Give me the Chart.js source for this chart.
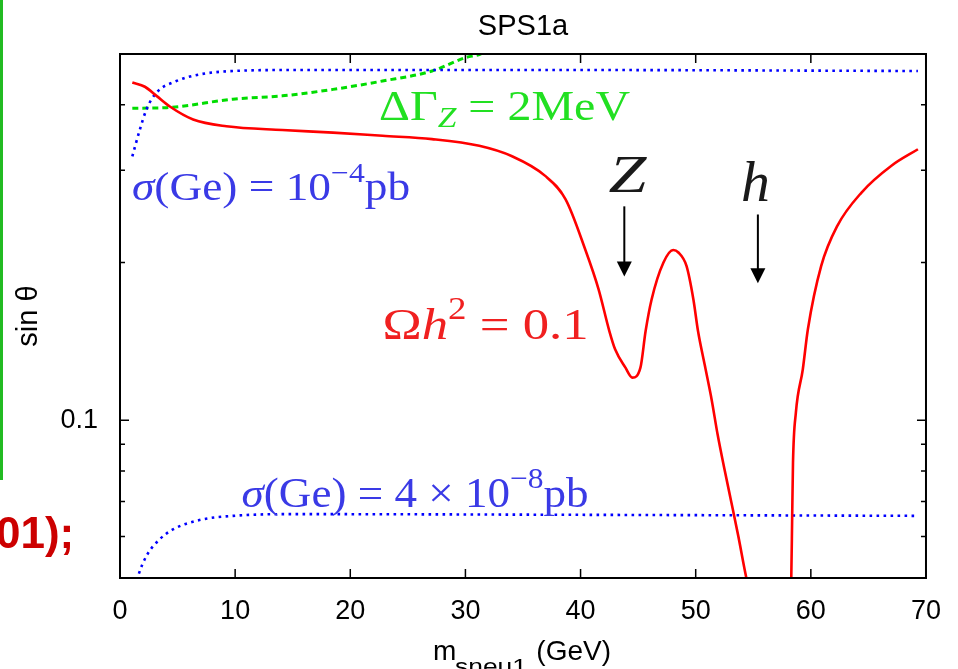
<!DOCTYPE html>
<html lang="en">
<head>
  <meta charset="UTF-8" />
  <title>SPS1a</title>
  <script src="https://cdn.jsdelivr.net/npm/chart.js"></script>
  <style>
    html, body { margin: 0; padding: 0; background: #fff; }
    #wrap { position: relative; width: 958px; height: 669px; overflow: hidden; }
    #bar { position: absolute; left: 0; top: 0; width: 3px; height: 480px; background: #22bb22; }
    #frag {
      position: absolute; left: -4px; top: 508px; line-height: 44px;
      font: bold 44px 'Liberation Sans', Arial, sans-serif; color: #cc0000;
    }
  </style>
</head>
<body>
  <div id="wrap">
    <canvas id="chart"></canvas>
    <div id="bar"></div>
    <div id="frag">01);</div>
  </div>
  <script>
    // axis ranges and ticks
    const xMin = 0, xMax = 70;
    const yMin = 0.05, yMax = 0.5;
    const xTickValues = [0, 10, 20, 30, 40, 50, 60, 70];
    const yTickValues = [0.05, 0.06, 0.07, 0.08, 0.09, 0.1, 0.2, 0.3, 0.4, 0.5];
    const yTickLabels = { 0.1: '0.1' };

    // Omega h^2 = 0.1 (red, solid)
    const omegaX = [1.07, 2.16, 3.17, 4.33, 6.35, 9.24, 14.1, 18.5, 22.8, 27.1,
      31.2, 34.05, 36.9, 38.7, 40.4, 41.56, 42.5, 43.0, 43.9, 44.5,
      45.2, 45.65, 46.17, 47.2, 48.05, 48.5, 49.2, 49.8, 50.2, 50.8,
      51.4, 51.9, 52.5, 53.1, 53.7, 54.4, 54.8, 56.3, 58.2, 58.3,
      58.38, 58.45, 58.7, 59.3, 59.74, 60.9, 62.3, 64.4, 67.0, 69.3];
    const omegaY = [0.441, 0.433, 0.416, 0.397, 0.375, 0.364, 0.358, 0.354, 0.349, 0.344,
      0.334, 0.319, 0.293, 0.264, 0.212, 0.178, 0.148, 0.1366, 0.126, 0.1206,
      0.126, 0.148, 0.170, 0.200, 0.2113, 0.209, 0.197, 0.170, 0.148, 0.127,
      0.109, 0.094, 0.0806, 0.0697, 0.0601, 0.05, 0.046, null, 0.046, 0.05,
      0.0657, 0.083, 0.1034, 0.125, 0.149, 0.197, 0.235, 0.272, 0.306, 0.329];

    // sigma(Ge) = 1e-4 pb (blue, dotted, top)
    const sigHighX = [1.07, 1.73, 2.3, 3.17, 4.9, 6.9, 9.8, 15, 40, 69.3];
    const sigHighY = [0.319, 0.359, 0.392, 0.422, 0.444, 0.457, 0.464, 0.466, 0.466, 0.464];

    // sigma(Ge) = 4e-8 pb (blue, dotted, bottom)
    const sigLowX = [1.3, 1.58, 2.3, 3.46, 4.6, 6.9, 9.8, 15, 40, 69.3];
    const sigLowY = [0.048, 0.0505, 0.0551, 0.0593, 0.0619, 0.0645, 0.0657, 0.0662, 0.066, 0.0657];

    // Delta Gamma_Z = 2 MeV (green, dashed)
    const widthX = [1.07, 4.04, 9.8, 14.1, 18.5, 22.8, 27.1, 30.0, 31.3, 32.0];
    const widthY = [0.394, 0.395, 0.410, 0.416, 0.428, 0.444, 0.464, 0.492, 0.5, 0.51];

    const pts = (xs, ys) => xs.map((x, i) => ({ x: x, y: ys[i] }));

    // labels placed in data coordinates: [left x, right x, baseline y]
    const notes = [
      { parts: [{ t: 'ΔΓ' }, { t: 'Z', it: true, sub: true }, { t: ' = 2MeV' }], x0: 22.5, x1: 44.3, y: 0.3737, size: 42, color: '#22e022' },
      { parts: [{ t: 'σ', it: true }, { t: '(Ge) = 10' }, { t: '−4', sup: true }, { t: 'pb' }], x0: 1.04, x1: 25.2, y: 0.263, size: 40, color: '#3a3ae6' },
      { parts: [{ t: 'Ω' }, { t: 'h', it: true }, { t: '2', sup: true }, { t: ' = 0.1' }], x0: 22.8, x1: 40.7, y: 0.1428, size: 44, color: '#f02020' },
      { parts: [{ t: 'σ', it: true }, { t: '(Ge) = 4 × 10' }, { t: '−8', sup: true }, { t: 'pb' }], x0: 10.56, x1: 40.7, y: 0.0682, size: 42, color: '#3a3ae6' },
      { parts: [{ t: 'Z', it: true }], x0: 42.42, x1: 45.71, y: 0.2723, size: 52, color: '#1a1a1a' },
      { parts: [{ t: 'h', it: true }], x0: 53.94, x1: 56.45, y: 0.2618, size: 56, color: '#1a1a1a' }
    ];
    // arrows: x, from y, to y
    const arrows = [
      { x: 43.8, y0: 0.256, y1: 0.188 },
      { x: 55.4, y0: 0.247, y1: 0.1826 }
    ];

    function drawMath(ctx, parts, x0, x1, base, size, color) {
      let w = 0;
      const items = parts.map(p => {
        const s = (p.sub || p.sup) ? size * 0.7 : size;
        const font = (p.it ? 'italic ' : '') + s + 'px "Liberation Serif", serif';
        ctx.font = font;
        const m = ctx.measureText(p.t).width;
        w += m;
        return { t: p.t, font: font, w: m, dy: p.sup ? -size * 0.46 : (p.sub ? size * 0.15 : 0) };
      });
      const k = (x1 - x0) / w;
      ctx.save();
      ctx.fillStyle = color;
      ctx.textAlign = 'left';
      ctx.textBaseline = 'alphabetic';
      ctx.translate(x0, base);
      ctx.scale(k, 1);
      let cx = 0;
      items.forEach(it => { ctx.font = it.font; ctx.fillText(it.t, cx, it.dy); cx += it.w; });
      ctx.restore();
    }

    const decor = {
      id: 'decor',
      afterDraw(chart) {
        const ctx = chart.ctx, a = chart.chartArea;
        const xs = chart.scales.x, ys = chart.scales.y;
        ctx.save();
        // frame
        ctx.strokeStyle = '#000';
        ctx.lineWidth = 2;
        ctx.strokeRect(a.left, a.top, a.right - a.left, a.bottom - a.top);
        // inward ticks
        ctx.lineWidth = 1.5;
        ctx.beginPath();
        xTickValues.forEach(v => {
          const px = xs.getPixelForValue(v);
          ctx.moveTo(px, a.bottom); ctx.lineTo(px, a.bottom - 9);
          ctx.moveTo(px, a.top); ctx.lineTo(px, a.top + 9);
        });
        yTickValues.forEach(v => {
          const py = ys.getPixelForValue(v);
          const len = yTickLabels[v] ? 9 : 5;
          ctx.moveTo(a.left, py); ctx.lineTo(a.left + len, py);
          ctx.moveTo(a.right, py); ctx.lineTo(a.right - len, py);
        });
        ctx.stroke();

        const cx = (a.left + a.right) / 2;
        // title
        ctx.fillStyle = '#000';
        ctx.textAlign = 'center';
        ctx.textBaseline = 'alphabetic';
        ctx.font = '29px "Liberation Sans", Arial, sans-serif';
        ctx.fillText('SPS1a', cx, a.top - 19);

        // x axis title with subscript
        ctx.textAlign = 'left';
        ctx.font = '28px "Liberation Sans", Arial, sans-serif';
        ctx.fillText('m', cx - 90, 660);
        ctx.textAlign = 'right';
        ctx.fillText('(GeV)', cx + 88, 660);
        ctx.save();
        ctx.font = '22px "Liberation Sans", Arial, sans-serif';
        const sw = ctx.measureText('sneu1').width;
        ctx.translate(cx - 68, 674);
        ctx.scale(72 / sw, 1);
        ctx.textAlign = 'left';
        ctx.fillText('sneu1', 0, 0);
        ctx.restore();

        // y axis title
        ctx.save();
        ctx.translate(37, (a.top + a.bottom) / 2);
        ctx.rotate(-Math.PI / 2);
        ctx.font = '29px "Liberation Sans", Arial, sans-serif';
        ctx.textAlign = 'center';
        ctx.fillText('sin θ', 0, 0);
        ctx.restore();

        // curve labels
        notes.forEach(n => {
          drawMath(ctx, n.parts, xs.getPixelForValue(n.x0), xs.getPixelForValue(n.x1),
            ys.getPixelForValue(n.y), n.size, n.color);
        });

        // arrows
        ctx.fillStyle = '#000';
        ctx.strokeStyle = '#000';
        ctx.lineWidth = 2;
        arrows.forEach(ar => {
          const px = xs.getPixelForValue(ar.x);
          const p0 = ys.getPixelForValue(ar.y0), p1 = ys.getPixelForValue(ar.y1);
          ctx.beginPath();
          ctx.moveTo(px, p0); ctx.lineTo(px, p1 - 14);
          ctx.stroke();
          ctx.beginPath();
          ctx.moveTo(px - 7.5, p1 - 15); ctx.lineTo(px + 7.5, p1 - 15); ctx.lineTo(px, p1);
          ctx.closePath();
          ctx.fill();
        });
        ctx.restore();
      }
    };

    const tickFont = { family: '"Liberation Sans", Arial, sans-serif', size: 27 };

    new Chart(document.getElementById('chart'), {
      type: 'line',
      data: {
        datasets: [
          { data: pts(omegaX, omegaY), borderColor: '#ff0000', borderWidth: 2.6 },
          { data: pts(sigHighX, sigHighY), borderColor: '#0000ff', borderWidth: 2.6, borderDash: [2.6, 4.4] },
          { data: pts(sigLowX, sigLowY), borderColor: '#0000ff', borderWidth: 2.6, borderDash: [2.6, 4.4] },
          { data: pts(widthX, widthY), borderColor: '#00dd00', borderWidth: 3, borderDash: [6, 4] }
        ]
      },
      options: {
        responsive: true,
        maintainAspectRatio: false,
        animation: false,
        devicePixelRatio: 1,
        layout: { padding: { left: 0, right: 29, top: 54, bottom: 0 } },
        elements: { point: { radius: 0 }, line: { cubicInterpolationMode: 'monotone', fill: false } },
        plugins: { legend: { display: false }, tooltip: { enabled: false } },
        scales: {
          x: {
            type: 'linear', min: xMin, max: xMax,
            afterBuildTicks: s => { s.ticks = xTickValues.map(v => ({ value: v })); },
            afterFit: s => { s.height = 91; },
            grid: { display: false, drawTicks: false },
            border: { display: false },
            ticks: { font: tickFont, color: '#000', padding: 17, maxRotation: 0, autoSkip: false }
          },
          y: {
            type: 'logarithmic', min: yMin, max: yMax,
            afterBuildTicks: s => { s.ticks = yTickValues.map(v => ({ value: v })); },
            afterFit: s => { s.width = 120; },
            grid: { display: false, drawTicks: false },
            border: { display: false },
            ticks: { font: tickFont, color: '#000', padding: 22, autoSkip: false,
              callback: v => yTickLabels[v] || '' }
          }
        }
      },
      plugins: [decor]
    });
  </script>
</body>
</html>
